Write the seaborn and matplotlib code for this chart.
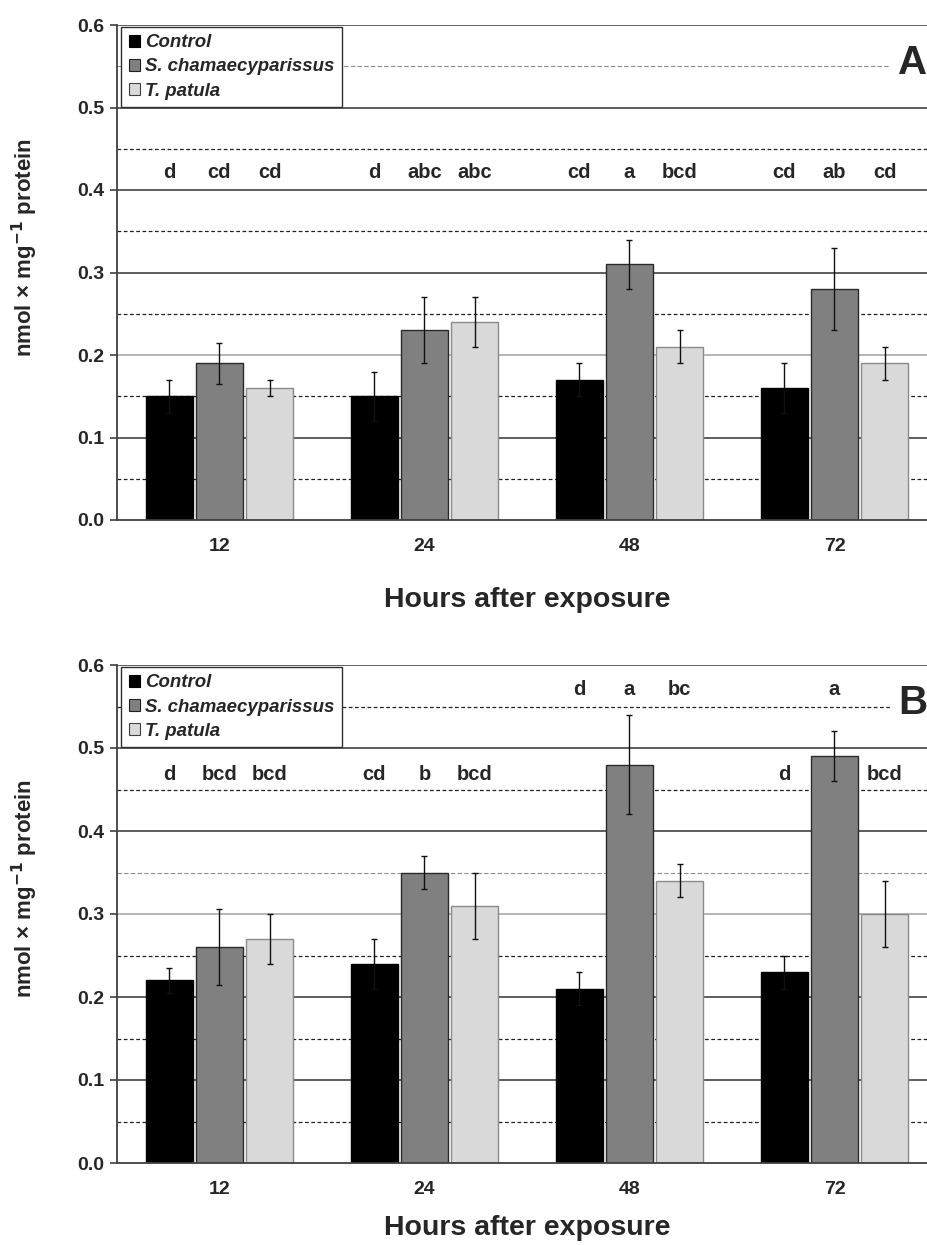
import numpy as np
import pandas as pd
import matplotlib
matplotlib.use('Agg')
import matplotlib.pyplot as plt
import seaborn as sns

hours = ['12', '24', '48', '72']
treatments = ['Control', 'S. chamaecyparissus', 'T. patula']

# Panel A
a_control = [0.15, 0.15, 0.17, 0.16]
a_control_err = [0.02, 0.03, 0.02, 0.03]
a_scham = [0.19, 0.23, 0.31, 0.28]
a_scham_err = [0.025, 0.04, 0.03, 0.05]
a_tpat = [0.16, 0.24, 0.21, 0.19]
a_tpat_err = [0.01, 0.03, 0.02, 0.02]
a_letters = [['d', 'cd', 'cd'], ['d', 'abc', 'abc'], ['cd', 'a', 'bcd'], ['cd', 'ab', 'cd']]

# Panel B
b_control = [0.22, 0.24, 0.21, 0.23]
b_control_err = [0.015, 0.03, 0.02, 0.02]
b_scham = [0.26, 0.35, 0.48, 0.49]
b_scham_err = [0.046, 0.02, 0.06, 0.03]
b_tpat = [0.27, 0.31, 0.34, 0.30]
b_tpat_err = [0.03, 0.04, 0.02, 0.04]
b_letters = [['d', 'bcd', 'bcd'], ['cd', 'b', 'bcd'], ['d', 'a', 'bc'], ['d', 'a', 'bcd']]

# letter heights (baseline)
a_letter_y = [[0.415] * 3] * 4
b_letter_y = [[0.461] * 3, [0.461] * 3, [0.564] * 3, [0.461, 0.564, 0.461]]

colors = ['#000000', '#808080', '#d9d9d9']
edges = ['#000000', '#2a2a2a', '#8a8a8a']

sns.set_style('white')
plt.rcParams['font.family'] = ['Liberation Sans', 'DejaVu Sans']
plt.rcParams['font.weight'] = 'bold'


def make_df(c, s, t, ce, se, te):
    rows = []
    for vals, errs, name in [(c, ce, treatments[0]), (s, se, treatments[1]), (t, te, treatments[2])]:
        for h, v, e in zip(hours, vals, errs):
            rows.append({'Hours': h, 'Treatment': name, 'value': v, 'err': e})
    return pd.DataFrame(rows)


df_a = make_df(a_control, a_scham, a_tpat, a_control_err, a_scham_err, a_tpat_err)
df_b = make_df(b_control, b_scham, b_tpat, b_control_err, b_scham_err, b_tpat_err)

fig = plt.figure(figsize=(9.28, 12.45), dpi=100)
ax_a = fig.add_axes([117 / 928, 1 - 520 / 1245, 820 / 928, 495 / 1245])
ax_b = fig.add_axes([117 / 928, 1 - 1163 / 1245, 820 / 928, 498 / 1245])


def draw_grid(ax, light_solid, light_dash):
    for lv in [0.1, 0.2, 0.3, 0.4, 0.5, 0.6]:
        col = '#b0b0b0' if np.isclose(lv, light_solid) else '#505050'
        ax.axhline(lv, color=col, lw=1.3, zorder=0)
    for lv in [0.05, 0.15, 0.25, 0.35, 0.45, 0.55]:
        if np.isclose(lv, light_dash):
            ax.axhline(lv, color='#8c8c8c', lw=0.8, ls=(0, (4, 2)), zorder=0)
        else:
            ax.axhline(lv, color='#202020', lw=0.9, ls=(0, (3, 2)), zorder=0)


def panel(ax, df, letters, letter_y, tag, light_solid, light_dash, xpad):
    draw_grid(ax, light_solid, light_dash)
    sns.barplot(data=df, x='Hours', y='value', hue='Treatment', hue_order=treatments,
                order=hours, palette=colors, width=0.735, gap=0.06, errorbar=None,
                ax=ax, zorder=2, linewidth=1.0)
    bar_groups = list(ax.containers)
    for k, cont in enumerate(bar_groups):
        sub = df[df['Treatment'] == treatments[k]]
        xs = []
        for bar in cont:
            bar.set_edgecolor(edges[k])
            bar.set_linewidth(1.0)
            xs.append(bar.get_x() + bar.get_width() / 2)
        ax.errorbar(xs, sub['value'], yerr=sub['err'], fmt='none', ecolor='#111111',
                    elinewidth=1.0, capsize=2.5, capthick=1.0, zorder=3)
        for i, x in enumerate(xs):
            ax.text(x, letter_y[i][k], letters[i][k], ha='center', va='baseline',
                    fontsize=14.5, fontweight='bold', zorder=4)

    ax.set_xlim(-0.5, 3.5)
    ax.set_ylim(0, 0.6)
    ax.set_yticks(np.arange(0, 0.61, 0.1))
    ax.set_yticklabels([f'{v:.1f}' for v in np.arange(0, 0.61, 0.1)], fontsize=14, fontweight='bold')
    ax.set_xticks(range(4))
    ax.set_xticklabels(hours, fontsize=14, fontweight='bold')
    ax.set_xticks([-0.5, 0.5, 1.5, 2.5, 3.5], minor=True)
    ax.tick_params(axis='x', which='major', length=0, pad=13)
    ax.tick_params(axis='x', which='minor', length=6, width=1.2, color='#404040', direction='out')
    ax.tick_params(axis='y', length=5, width=1.2, color='#404040', direction='out', pad=4, left=True)
    for side in ['top', 'right']:
        ax.spines[side].set_visible(False)
    for side in ['left', 'bottom']:
        ax.spines[side].set_color('#404040')
        ax.spines[side].set_linewidth(1.3)
        ax.spines[side].set_zorder(5)

    ax.set_xlabel('Hours after exposure', fontsize=20.5, fontweight='bold', labelpad=xpad)
    ax.set_ylabel('nmol × mg$^{\\mathbf{-1}}$ protein', fontsize=16, fontweight='bold')
    ax.yaxis.set_label_coords(-0.094, 0.551)

    handles, labels = ax.get_legend_handles_labels()
    for h, ec in zip(handles[:3], ['#000000', '#202020', '#404040']):
        h.set_edgecolor(ec)
        h.set_linewidth(0.8)
    leg = ax.legend(handles[:3], labels[:3], loc='upper left', bbox_to_anchor=(0.005, 0.996),
                    borderaxespad=0, fancybox=False, framealpha=1, edgecolor='#303030',
                    handlelength=0.6, handleheight=0.6, handletextpad=0.3, labelspacing=0.38,
                    borderpad=0.4, prop={'size': 13.4, 'weight': 'bold', 'style': 'italic'})
    leg.get_frame().set_linewidth(1.0)
    leg.set_zorder(6)

    ax.text(3.31, 0.554, tag, ha='left', va='center', fontsize=29, fontweight='bold',
            bbox=dict(facecolor='white', edgecolor='none', pad=5), zorder=6)


panel(ax_a, df_a, a_letters, a_letter_y, 'A', 0.2, 0.55, 23)
panel(ax_b, df_b, b_letters, b_letter_y, 'B', 0.3, 0.35, 12)

fig.savefig('out.png', dpi=100)
